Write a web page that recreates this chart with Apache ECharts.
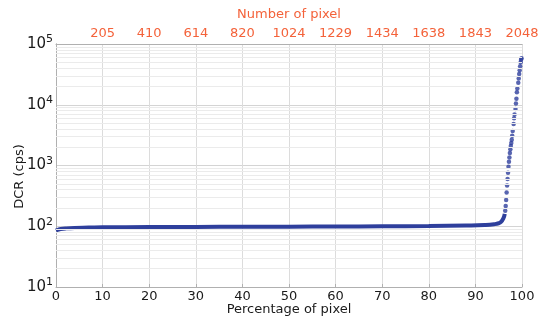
<!DOCTYPE html>
<html>
<head>
<meta charset="utf-8">
<script src="https://cdn.jsdelivr.net/npm/echarts@6/dist/echarts.min.js"></script>
<style>
  html, body { margin: 0; padding: 0; background: #fff; }
  #chart { width: 547px; height: 322px; }
</style>
</head>
<body>
<div id="chart"></div>
<script>
    // tick labels
    var topLabels = ['205', '410', '614', '820', '1024', '1229', '1434', '1638', '1843', '2048'];
    var yExponents = ['1', '2', '3', '4', '5'];

    // flat part of the DCR curve: [percentage, cps]
    var flatPart = [
        [0, 85], [0.5, 88], [1, 90], [2, 92], [4, 94], [7, 95], [10, 96],
        [20, 97], [30, 97.5], [40, 98], [50, 98.5], [60, 99], [70, 100],
        [80, 101], [88, 103], [92, 105], [94, 108], [95, 112], [95.5, 118],
        [96, 135], [96.3, 160]
    ];

    // hot pixels, rising tail
    var tailPart = [
        [96.4, 180], [96.5, 215], [96.6, 270], [96.7, 360], [96.8, 470], [96.9, 600],
        [97.0, 760], [97.1, 950], [97.2, 1150], [97.3, 1350], [97.4, 1600], [97.5, 1850],
        [97.6, 2100], [97.7, 2350], [97.8, 2650], [97.9, 3100], [98.0, 3700], [98.2, 4800],
        [98.3, 6000], [98.4, 6900], [98.6, 8500], [98.7, 10500], [98.8, 12500], [98.9, 16000],
        [99.0, 18500], [99.2, 23000], [99.3, 27000], [99.4, 32000], [99.5, 37000],
        [99.6, 43000], [99.7, 50000], [99.8, 55000], [99.9, 58000]
    ];

    var minorLines = [];
    for (var e = 1; e < 5; e++) {
        for (var m = 2; m < 10; m++) {
            minorLines.push({ yAxis: m * Math.pow(10, e) });
        }
    }

    var font = 'DejaVu Sans';
    var orange = '#F4623A';
    var blue = '#2E3F9C';

    var myChart = echarts.init(document.getElementById('chart'));
    var option = {
        backgroundColor: '#fff',
        animation: false,
        grid: { left: 56, right: 25, top: 44, bottom: 35, outerBoundsMode: 'none', containLabel: false },
        xAxis: [
            {
                type: 'value', min: 0, max: 100, interval: 10,
                name: 'Percentage of pixel', nameLocation: 'middle', nameGap: 16, nameMoveOverlap: false,
                nameTextStyle: { fontFamily: font, fontSize: 13, color: '#1a1a1a' },
                axisLine: { lineStyle: { color: '#b0b0b0' } },
                axisTick: { inside: true, length: 3, lineStyle: { color: '#b0b0b0' } },
                axisLabel: { fontFamily: font, fontSize: 13, color: '#1a1a1a', margin: 3 },
                splitLine: { show: true, lineStyle: { color: '#dcdcdc' } }
            },
            {
                type: 'value', min: 0, max: 100, interval: 10, position: 'top',
                name: 'Number of pixel', nameLocation: 'middle', nameGap: 23, nameMoveOverlap: false,
                nameTextStyle: { fontFamily: font, fontSize: 13, color: orange },
                axisLine: { lineStyle: { color: '#b0b0b0' } },
                axisTick: { show: false },
                axisLabel: {
                    fontFamily: font, fontSize: 13, color: orange, margin: 4,
                    formatter: function (v) { return v > 0 ? topLabels[Math.round(v / 10) - 1] : ''; }
                },
                splitLine: { show: false }
            }
        ],
        yAxis: [
            {
                type: 'log', logBase: 10, min: 10, max: 100000,
                name: 'DCR (cps)', nameLocation: 'middle', nameGap: 30, nameMoveOverlap: false,
                nameTextStyle: { fontFamily: font, fontSize: 13, color: '#1a1a1a', padding: [0, 22, 0, 0] },
                axisLine: { lineStyle: { color: '#b0b0b0' } },
                axisTick: { show: false },
                axisLabel: {
                    margin: 3,
                    formatter: function (v) {
                        var i = Math.round(Math.log10(v)) - 1;
                        return '{b|10}{s|' + yExponents[i] + '}';
                    },
                    rich: {
                        b: { fontFamily: font, fontSize: 15, color: '#1a1a1a' },
                        s: { fontFamily: font, fontSize: 11, color: '#1a1a1a', verticalAlign: 'top', padding: [0, 0, 9, 0] }
                    }
                },
                splitLine: { show: true, lineStyle: { color: '#d4d4d4' } }
            },
            {
                type: 'log', logBase: 10, min: 10, max: 100000, position: 'right',
                axisLine: { show: true, lineStyle: { color: '#b0b0b0' } },
                axisTick: { show: false },
                axisLabel: { show: false },
                splitLine: { show: false }
            }
        ],
        series: [
            {
                type: 'line',
                data: flatPart,
                showSymbol: false,
                smooth: true,
                lineStyle: { color: blue, width: 4 },
                markLine: {
                    silent: true,
                    symbol: 'none',
                    label: { show: false },
                    lineStyle: { color: '#ebebeb', width: 1, type: 'solid' },
                    data: minorLines
                },
                z: 3
            },
            {
                type: 'scatter',
                data: tailPart,
                symbolSize: 4.5,
                itemStyle: { color: blue },
                z: 3
            }
        ]
    };
    myChart.setOption(option);
</script>
</body>
</html>
